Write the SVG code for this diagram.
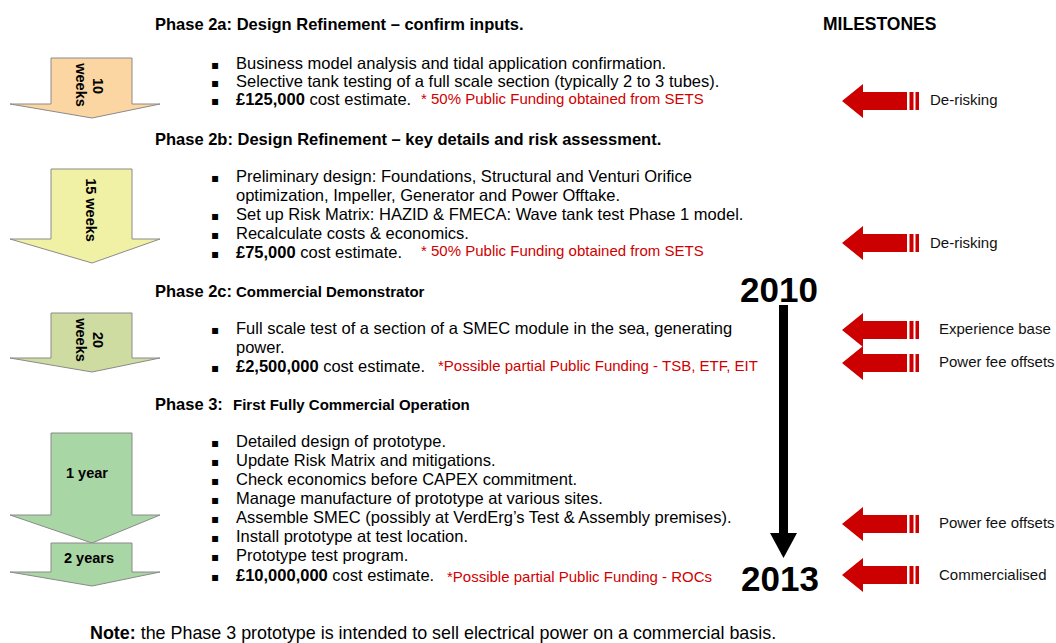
<svg xmlns="http://www.w3.org/2000/svg" width="1056" height="643" viewBox="0 0 1056 643">
<defs>
<style>
text{font-family:"Liberation Sans",Arial,sans-serif;fill:#000}
.h{font-size:16.5px;font-weight:bold}
.hs{font-size:15px;font-weight:bold}
.t{font-size:16.5px}
.b{font-weight:bold}
.r{font-size:15px;fill:#d00000}
.m{font-size:15px;fill:#111}
.lbl{font-size:14.5px;font-weight:bold}
.yr{font-size:35px;font-weight:bold}
.bul{font-size:12px;font-family:"DejaVu Sans",sans-serif}
.ph{stroke:#8a8a8a;stroke-width:1}
</style>
<g id="redArrow">
<polygon points="0,0 21,-17 21,-9 65,-9 65,9 21,9 21,17" fill="#cc0000"/>
<rect x="67.5" y="-9" width="4" height="18" fill="#cc0000"/>
<rect x="73.5" y="-9" width="3.5" height="18" fill="#cc0000"/>
</g>
</defs>
<rect width="1056" height="643" fill="#fff"/>

<text x="823" y="30" class="h" style="font-size:17.5px">MILESTONES</text>

<g id="phase2a">
<polygon class="ph" points="51,58 132,58 132,104 160,104 92,118 10,104 51,104" fill="#fcd6a2"/>
<text class="lbl" transform="translate(93,86) rotate(90)" text-anchor="middle">10</text>
<text class="lbl" transform="translate(75.5,85) rotate(90)" text-anchor="middle">weeks</text>
<text x="155" y="30" class="h">Phase 2a: Design Refinement – confirm inputs.</text>
<text x="211" y="69" class="bul">▪</text><text x="236" y="69" class="t">Business model analysis and tidal application confirmation.</text>
<text x="211" y="87" class="bul">▪</text><text x="236" y="87" class="t">Selective tank testing of a full scale section (typically 2 to 3 tubes).</text>
<text x="211" y="105" class="bul">▪</text><text x="236" y="105" class="t"><tspan class="b">£125,000</tspan> cost estimate.</text>
<text x="421" y="104" class="r">* 50% Public Funding obtained from SETS</text>
</g>

<g id="phase2b">
<polygon class="ph" points="51,169 132,169 132,239 160,239 92,263 10,239 51,239" fill="#f1f1a6"/>
<text class="lbl" transform="translate(85.5,210) rotate(90)" text-anchor="middle">15 weeks</text>
<text x="155" y="145" class="h">Phase 2b: Design Refinement – key details and risk assessment.</text>
<text x="211" y="182" class="bul">▪</text><text x="236" y="182" class="t">Preliminary design: Foundations, Structural and Venturi Orifice</text>
<text x="236" y="201" class="t">optimization, Impeller, Generator and Power Offtake.</text>
<text x="211" y="220" class="bul">▪</text><text x="236" y="220" class="t">Set up Risk Matrix: HAZID &amp; FMECA: Wave tank test Phase 1 model.</text>
<text x="211" y="239" class="bul">▪</text><text x="236" y="239" class="t">Recalculate costs &amp; economics.</text>
<text x="211" y="258" class="bul">▪</text><text x="236" y="258" class="t"><tspan class="b">£75,000</tspan> cost estimate.</text>
<text x="421" y="256" class="r">* 50% Public Funding obtained from SETS</text>
</g>

<g id="phase2c">
<polygon class="ph" points="51,313 132,313 132,358 160,358 92,372 10,358 51,358" fill="#cedca2"/>
<text class="lbl" transform="translate(93,340) rotate(90)" text-anchor="middle">20</text>
<text class="lbl" transform="translate(75.5,340) rotate(90)" text-anchor="middle">weeks</text>
<text x="155" y="297" class="h">Phase 2c:</text>
<text x="236" y="297" class="hs">Commercial Demonstrator</text>
<text x="211" y="334" class="bul">▪</text><text x="236" y="334" class="t">Full scale test of a section of a SMEC module in the sea, generating</text>
<text x="236" y="353" class="t">power.</text>
<text x="211" y="372" class="bul">▪</text><text x="236" y="372" class="t"><tspan class="b">£2,500,000</tspan> cost estimate.</text>
<text x="438" y="371" class="r">*Possible partial Public Funding - TSB, ETF, EIT</text>
</g>

<g id="phase3">
<polygon class="ph" points="51,433 132,433 132,515 160,515 92,543 10,515 51,515" fill="#a8d6a4"/>
<polygon class="ph" points="51,543 132,543 132,572 160,572 92,586 10,572 51,572" fill="#a8d6a4"/>
<text x="87" y="478" class="lbl" text-anchor="middle">1 year</text>
<text x="89" y="563" class="lbl" text-anchor="middle">2 years</text>
<text x="155" y="410" class="h">Phase 3:</text>
<text x="233" y="410" class="hs">First Fully Commercial Operation</text>
<text x="211" y="447" class="bul">▪</text><text x="236" y="447" class="t">Detailed design of prototype.</text>
<text x="211" y="466" class="bul">▪</text><text x="236" y="466" class="t">Update Risk Matrix and mitigations.</text>
<text x="211" y="485" class="bul">▪</text><text x="236" y="485" class="t">Check economics before CAPEX commitment.</text>
<text x="211" y="504" class="bul">▪</text><text x="236" y="504" class="t">Manage manufacture of prototype at various sites.</text>
<text x="211" y="523" class="bul">▪</text><text x="236" y="523" class="t">Assemble SMEC (possibly at VerdErg’s Test &amp; Assembly premises).</text>
<text x="211" y="542" class="bul">▪</text><text x="236" y="542" class="t">Install prototype at test location.</text>
<text x="211" y="561" class="bul">▪</text><text x="236" y="561" class="t">Prototype test program.</text>
<text x="211" y="581" class="bul">▪</text><text x="236" y="581" class="t"><tspan class="b">£10,000,000</tspan> cost estimate.</text>
<text x="447" y="582" class="r">*Possible partial Public Funding - ROCs</text>
</g>

<g id="timeline">
<text x="740" y="302" class="yr">2010</text>
<text x="741" y="591" class="yr">2013</text>
</g>

<g id="connectors">
<rect x="779" y="305" width="9" height="229" fill="#000"/>
<polygon points="770,533 797,533 783.5,558" fill="#000"/>
</g>

<g id="milestones">
<use href="#redArrow" transform="translate(842,101)"/>
<text x="930" y="105" class="m">De-risking</text>
<use href="#redArrow" transform="translate(842,243)"/>
<text x="930" y="248" class="m">De-risking</text>
<use href="#redArrow" transform="translate(842,330)"/>
<text x="939" y="334" class="m">Experience base</text>
<use href="#redArrow" transform="translate(842,363)"/>
<text x="939" y="367" class="m">Power fee offsets</text>
<use href="#redArrow" transform="translate(842,524)"/>
<text x="939" y="528" class="m">Power fee offsets</text>
<use href="#redArrow" transform="translate(842,575)"/>
<text x="939" y="580" class="m">Commercialised</text>
</g>

<text x="90" y="639" class="t" style="font-size:17.9px"><tspan class="b">Note:</tspan> the Phase 3 prototype is intended to sell electrical power on a commercial basis.</text>
</svg>
